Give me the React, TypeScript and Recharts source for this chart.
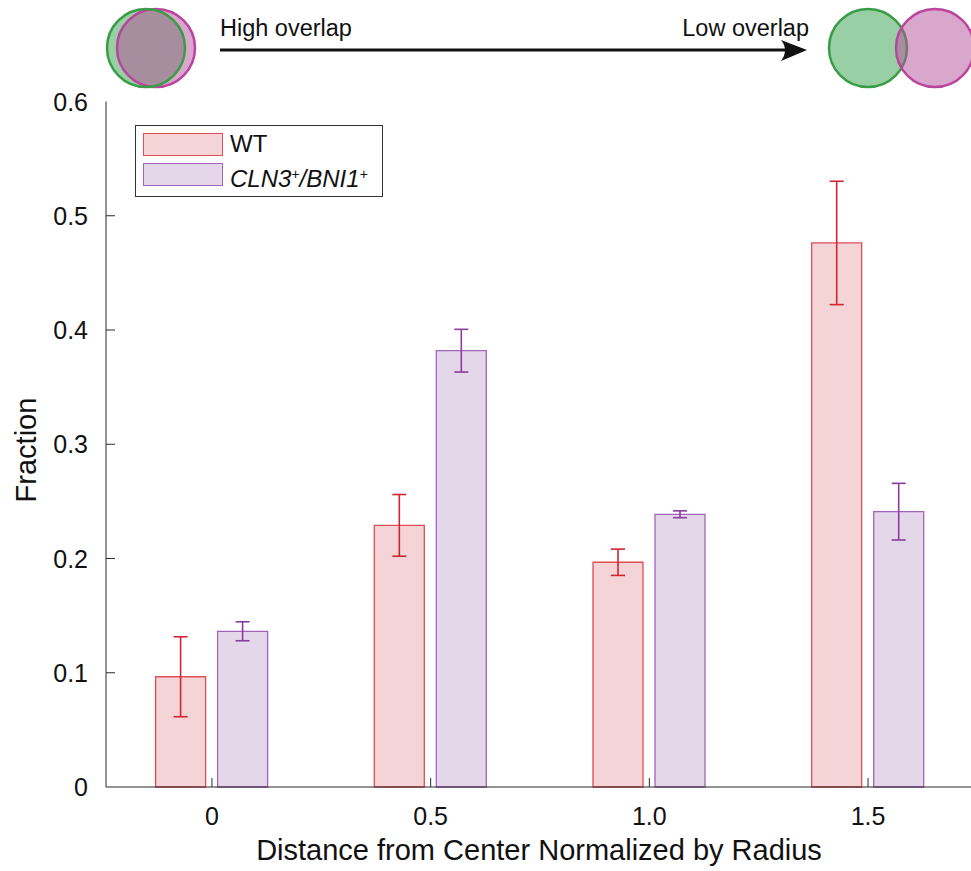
import React from "react"
import { BarChart, Bar, XAxis, YAxis, ErrorBar, Legend, Label } from "recharts"

const CATEGORIES = ["0", "0.5", "1.0", "1.5"]
const WT_VALUES = [0.0965, 0.229, 0.1967, 0.4762]
const WT_ERRORS = [0.035, 0.027, 0.0115, 0.054]
const CLN_VALUES = [0.1363, 0.3819, 0.2387, 0.241]
const CLN_ERRORS = [0.0083, 0.0187, 0.003, 0.0248]
const Y_TICKS = [0, 0.1, 0.2, 0.3, 0.4, 0.5, 0.6]
const Y_TICK_LABELS = ["0", "0.1", "0.2", "0.3", "0.4", "0.5", "0.6"]
const SERIES_ORDER = ["wt", "cln"]

const FONT = '"Liberation Sans", Arial, Helvetica, sans-serif'
const TEXT = "#111111"
const AXIS = "#2b2b2b"

const WT_FILL = "#f4d4d6"
const WT_STROKE = "#de4e56"
const WT_ERR = "#d1252f"
const CLN_FILL = "#e5d7ea"
const CLN_STROKE = "#a263b8"
const CLN_ERR = "#8a3d9f"

const data = CATEGORIES.map((dist, i) => ({
  dist,
  wt: WT_VALUES[i],
  wtErr: WT_ERRORS[i],
  cln: CLN_VALUES[i],
  clnErr: CLN_ERRORS[i],
}))

const LeftTick = (props: any) => {
  const { x, y, index } = props
  return (
    <g>
      {index > 0 && index < Y_TICKS.length - 1 && (
        <line x1={x} x2={x + 9} y1={y} y2={y} stroke={AXIS} strokeWidth={1} />
      )}
      <text x={x - 18} y={y} dy={9} textAnchor="end" fontSize={25} fontFamily={FONT} fill={TEXT}>
        {Y_TICK_LABELS[index]}
      </text>
    </g>
  )
}

const RightTick = (props: any) => {
  const { x, y, index } = props
  if (index === 0 || index === Y_TICKS.length - 1) return <g />
  return <line x1={x - 7} x2={x} y1={y} y2={y} stroke={AXIS} strokeWidth={1} />
}

const BottomTick = (props: any) => {
  const { x, y, payload } = props
  return (
    <g>
      <line x1={x} x2={x} y1={y} y2={y - 9} stroke={AXIS} strokeWidth={1} />
      <text x={x} y={y + 38} textAnchor="middle" fontSize={25} fontFamily={FONT} fill={TEXT}>
        {payload.value}
      </text>
    </g>
  )
}

const TopTick = (props: any) => {
  const { x, y } = props
  return <line x1={x} x2={x} y1={y} y2={y + 9} stroke={AXIS} strokeWidth={1} />
}

const renderLegend = (props: any) => {
  const items = [...(props.payload || [])].sort(
    (a: any, b: any) => SERIES_ORDER.indexOf(a.dataKey) - SERIES_ORDER.indexOf(b.dataKey)
  )
  return (
    <div
      style={{
        position: "relative",
        width: 246,
        height: 70,
        border: "1px solid #333",
        background: "#fff",
        fontFamily: FONT,
        color: TEXT,
      }}
    >
      {items.map((entry: any, i: number) => {
        const isWt = entry.dataKey === "wt"
        return (
          <div key={entry.dataKey} style={{ position: "absolute", left: 7, top: 7 + i * 30, height: 24 }}>
            <div
              style={{
                position: "absolute",
                left: 0,
                top: 0,
                width: 78,
                height: 21,
                background: isWt ? WT_FILL : CLN_FILL,
                border: `1.5px solid ${isWt ? WT_STROKE : CLN_STROKE}`,
              }}
            />
            <div style={{ position: "absolute", left: 87, top: -3, fontSize: 24, whiteSpace: "nowrap", lineHeight: "28px" }}>
              {isWt ? (
                "WT"
              ) : (
                <i>
                  CLN3<sup style={{ fontSize: 14, verticalAlign: 8 }}>+</sup>/BNI1
                  <sup style={{ fontSize: 14, verticalAlign: 8 }}>+</sup>
                </i>
              )}
            </div>
          </div>
        )
      })}
    </div>
  )
}

function Header() {
  return (
    <svg width={971} height={100} style={{ position: "absolute", left: 0, top: 0 }}>
      <circle cx={146} cy={48} r={39} fill="#33a04a" fillOpacity={0.5} />
      <circle cx={156} cy={48} r={39} fill="#b34d99" fillOpacity={0.5} />
      <circle cx={156} cy={48} r={39} fill="none" stroke="#b9459f" strokeWidth={2.5} />
      <circle cx={146} cy={48} r={39} fill="none" stroke="#3a9c46" strokeWidth={2.5} />

      <line x1={220} x2={788} y1={50} y2={50} stroke="#111" strokeWidth={3} />
      <path d="M807,50 L781,40 Q789,50 781,61 Z" fill="#111" />
      <text x={220} y={36} fontSize={23.5} fontFamily={FONT} fill={TEXT}>
        High overlap
      </text>
      <text x={809} y={36} fontSize={23.5} fontFamily={FONT} fill={TEXT} textAnchor="end">
        Low overlap
      </text>

      <circle cx={868} cy={48} r={39} fill="#33a04a" fillOpacity={0.5} stroke="#3a9c46" strokeWidth={2.5} />
      <circle cx={935} cy={48} r={39} fill="#b34d99" fillOpacity={0.5} stroke="#b9459f" strokeWidth={2.5} />
    </svg>
  )
}

export default function App() {
  return (
    <div
      style={{
        position: "absolute",
        left: 0,
        top: 0,
        width: 971,
        height: 871,
        overflow: "hidden",
        background: "#fff",
        fontFamily: FONT,
      }}
    >
      <BarChart
        width={975}
        height={871}
        data={data}
        margin={{ top: 101.5, right: 0, bottom: 0, left: 0 }}
        barSize={50}
        barGap={12}
      >
        <XAxis
          xAxisId="top"
          orientation="top"
          dataKey="dist"
          height={0}
          interval={0}
          padding={{ left: -3.4, right: -5.4 }}
          tickSize={0}
          tickMargin={0}
          tickLine={false}
          tick={<TopTick />}
          axisLine={{ stroke: AXIS, strokeWidth: 1 }}
        />
        <XAxis
          dataKey="dist"
          height={84}
          interval={0}
          padding={{ left: -3.4, right: -5.4 }}
          tickSize={0}
          tickMargin={0}
          tickLine={false}
          tick={<BottomTick />}
          axisLine={{ stroke: AXIS, strokeWidth: 1 }}
        >
          <Label
            content={(props: any) => {
              const { viewBox } = props
              const cx = viewBox.x + viewBox.width / 2
              return (
                <text x={cx} y={860} textAnchor="middle" fontSize={29} fontFamily={FONT} fill={TEXT}>
                  Distance from Center Normalized by Radius
                </text>
              )
            }}
          />
        </XAxis>
        <YAxis
          type="number"
          domain={[0, 0.6]}
          ticks={Y_TICKS}
          interval={0}
          width={106}
          tickSize={0}
          tickMargin={0}
          tickLine={false}
          tick={<LeftTick />}
          axisLine={{ stroke: AXIS, strokeWidth: 1 }}
        >
          <Label
            content={() => (
              <text
                x={36}
                y={450}
                transform="rotate(-90 36 450)"
                textAnchor="middle"
                fontSize={29}
                fontFamily={FONT}
                fill={TEXT}
              >
                Fraction
              </text>
            )}
          />
        </YAxis>
        <YAxis
          yAxisId="right"
          orientation="right"
          type="number"
          domain={[0, 0.6]}
          ticks={Y_TICKS}
          interval={0}
          width={3}
          tickSize={0}
          tickMargin={0}
          tickLine={false}
          tick={<RightTick />}
          axisLine={{ stroke: AXIS, strokeWidth: 1 }}
        />
        <Legend
          layout="vertical"
          align="center"
          verticalAlign="middle"
          content={renderLegend}
          wrapperStyle={{ left: 135, top: 125, width: 248, height: 72 }}
        />
        <Bar dataKey="wt" name="WT" fill={WT_FILL} stroke={WT_STROKE} strokeWidth={1.3} isAnimationActive={false}>
          <ErrorBar dataKey="wtErr" width={7} stroke={WT_ERR} strokeWidth={1.6} direction="y" />
        </Bar>
        <Bar dataKey="cln" name="CLN3+/BNI1+" fill={CLN_FILL} stroke={CLN_STROKE} strokeWidth={1.3} isAnimationActive={false}>
          <ErrorBar dataKey="clnErr" width={7} stroke={CLN_ERR} strokeWidth={1.6} direction="y" />
        </Bar>
      </BarChart>
      <Header />
    </div>
  )
}
